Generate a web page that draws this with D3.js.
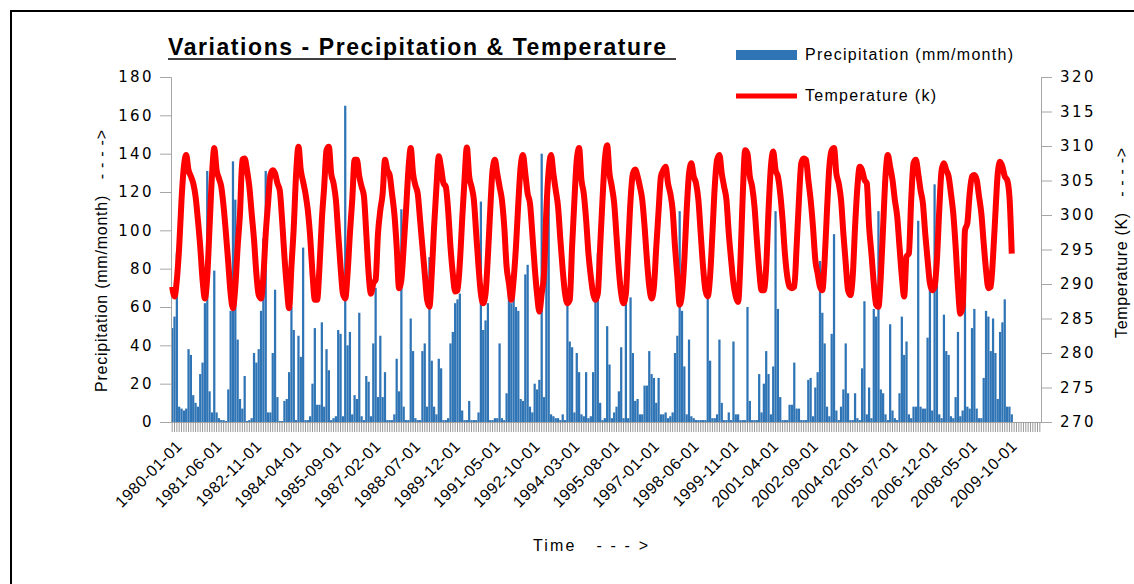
<!DOCTYPE html>
<html lang="en">
<head>
	<meta charset="UTF-8">
	<title>Variations - Precipitation &amp; Temperature</title>
	<style>
		body { margin: 0; background: #fff; }
		text { font-family: "Liberation Sans", Arial, sans-serif; white-space: pre; }
	</style>
</head>
<body>
	<svg id="chart" width="1134" height="584"></svg>
	<script src="https://cdn.jsdelivr.net/npm/d3@7"></script>
	<script>

	// monthly series, 1980-01 .. 2009-12 (axis runs on to 2010-12)
	var precipitation = [
		49, 55, 88, 8, 7, 6, 7, 38, 35, 14, 10, 8,
		25, 31, 62, 131, 16, 5, 79, 5, 2, 1, 1, 0.5,
		17, 58, 136, 116, 43, 12, 7, 24, 0.5, 1, 2, 36,
		31, 38, 58, 96, 131, 5, 5, 36, 69, 13, 0.5, 0.5,
		11, 12, 26, 60, 48, 1, 45, 34, 91, 1, 1, 3,
		20, 49, 9, 9, 52, 8, 38, 27, 1, 2, 3, 48,
		46, 3, 165, 40, 47, 4, 14, 12, 57, 3, 1, 24,
		21, 3, 41, 70, 13, 45, 13, 26, 1, 1, 1, 4,
		33, 16, 111, 8, 1, 1, 54, 37, 2, 1, 1, 37,
		41, 8, 86, 32, 8, 4, 33, 28, 1, 1, 2, 41,
		47, 62, 64, 67, 6, 1, 1, 11, 1, 1, 1, 5,
		115, 48, 53, 62, 1, 1, 2, 2, 41, 2, 1, 15,
		69, 62, 66, 60, 58, 12, 11, 77, 82, 8, 5, 20,
		17, 22, 140, 13, 127, 120, 4, 3, 2, 2, 1, 4,
		1, 62, 42, 39, 5, 36, 26, 4, 3, 26, 2, 3,
		26, 65, 88, 10, 1, 2, 50, 30, 2, 5, 8, 16,
		39, 2, 65, 2, 65, 36, 11, 12, 4, 4, 19, 19,
		37, 25, 23, 10, 23, 4, 4, 5, 2, 3, 5, 36,
		45, 110, 58, 29, 4, 43, 3, 2, 1, 1, 1, 1,
		1, 65, 32, 2, 2, 4, 43, 10, 1, 1, 5, 1,
		42, 4, 4, 1, 1, 1, 60, 11, 1, 1, 1, 25,
		5, 20, 37, 25, 4, 29, 110, 59, 13, 1, 1, 1,
		9, 9, 31, 7, 7, 1, 1, 1, 22, 23, 3, 18,
		26, 84, 57, 41, 8, 3, 46, 98, 6, 1, 8, 17,
		41, 15, 1, 1, 15, 2, 1, 28, 63, 4, 18, 2,
		59, 55, 110, 17, 15, 4, 1, 51, 6, 2, 1, 15,
		55, 35, 42, 4, 2, 8, 8, 105, 8, 7, 7, 44,
		70, 6, 124, 99, 4, 2, 56, 37, 35, 3, 2, 13,
		47, 3, 6, 102, 8, 7, 49, 59, 7, 2, 2, 23,
		58, 55, 37, 54, 36, 12, 47, 52, 64, 8, 8, 4
	];

	var temperature = [
		289.6, 288.2, 290.6, 295.4, 302.2, 307.0, 308.7, 306.5, 305.6, 304.6, 302.7, 299.3,
		295.4, 290.6, 287.9, 291.1, 298.3, 305.6, 309.7, 306.5, 305.3, 304.1, 301.2, 297.3,
		293.0, 288.6, 286.5, 289.6, 295.4, 300.2, 308.0, 308.2, 306.5, 304.1, 300.2, 296.4,
		291.5, 288.4, 287.9, 291.1, 297.3, 301.7, 305.8, 306.5, 306.0, 304.6, 303.6, 299.3,
		294.0, 289.6, 286.5, 292.5, 298.3, 306.0, 309.9, 306.5, 304.8, 303.1, 300.7, 296.9,
		291.5, 287.7, 287.7, 292.5, 299.3, 304.1, 309.4, 309.9, 306.0, 304.6, 302.2, 297.3,
		292.5, 288.6, 287.9, 291.5, 297.3, 302.2, 308.0, 308.0, 305.6, 304.1, 302.7, 297.3,
		291.5, 288.6, 290.1, 290.6, 297.3, 300.7, 303.1, 308.0, 306.5, 305.8, 303.1, 300.2,
		295.4, 289.4, 290.6, 295.4, 300.7, 306.5, 309.7, 306.0, 304.3, 303.1, 299.3, 295.4,
		291.5, 287.7, 286.7, 291.5, 298.3, 304.1, 308.5, 306.8, 304.6, 304.1, 300.7, 295.4,
		291.5, 288.9, 289.1, 293.0, 299.3, 305.1, 309.8, 305.6, 304.1, 302.2, 297.3, 292.5,
		288.6, 287.2, 288.6, 294.0, 300.7, 306.5, 308.0, 306.0, 304.1, 302.2, 298.3, 292.5,
		290.1, 287.7, 290.6, 295.4, 301.7, 307.0, 308.7, 306.0, 303.1, 301.7, 297.3, 292.5,
		288.6, 286.0, 288.6, 291.5, 300.7, 306.5, 308.7, 306.0, 303.6, 301.2, 296.4, 292.0,
		288.6, 287.2, 287.7, 295.4, 302.2, 308.0, 309.7, 305.1, 303.1, 299.3, 294.4, 291.1,
		288.6, 287.7, 288.6, 295.4, 302.2, 308.0, 310.1, 306.0, 304.1, 301.7, 296.9, 292.0,
		288.6, 287.2, 288.6, 295.4, 302.2, 306.0, 306.6, 305.6, 304.1, 302.2, 298.3, 293.5,
		289.6, 287.9, 289.6, 295.4, 300.7, 305.6, 306.5, 307.0, 304.6, 303.1, 300.7, 295.4,
		291.1, 287.0, 288.6, 293.5, 300.7, 306.0, 307.5, 305.6, 304.6, 302.2, 297.3, 292.5,
		289.1, 288.2, 291.1, 297.3, 304.1, 308.0, 308.7, 306.0, 304.1, 302.2, 297.3, 293.5,
		290.1, 288.2, 287.4, 293.5, 303.1, 309.4, 308.9, 305.6, 304.1, 301.2, 296.4, 292.0,
		289.1, 289.1, 292.5, 300.7, 307.0, 309.2, 306.5, 305.6, 303.1, 299.3, 294.4, 291.1,
		289.6, 289.4, 289.6, 295.4, 302.2, 307.5, 308.2, 308.0, 305.1, 302.2, 298.3, 293.5,
		291.5, 289.6, 289.1, 293.5, 300.7, 307.0, 309.4, 309.7, 306.0, 304.6, 302.2, 297.3,
		293.0, 289.1, 288.4, 291.1, 298.3, 304.1, 307.0, 306.5, 305.1, 304.6, 298.3, 294.4,
		290.1, 287.0, 286.7, 291.1, 298.3, 305.6, 308.7, 307.0, 305.1, 302.2, 299.8, 295.4,
		291.1, 288.2, 294.0, 294.4, 302.2, 307.5, 308.0, 306.0, 303.6, 301.7, 297.3, 293.5,
		290.1, 289.1, 289.6, 293.5, 300.7, 306.5, 307.5, 306.5, 305.6, 303.1, 300.2, 295.4,
		289.6, 285.7, 286.7, 297.8, 298.8, 303.1, 305.6, 305.8, 305.1, 302.7, 300.2, 295.9,
		292.0, 289.4, 289.6, 294.0, 300.2, 306.0, 307.7, 307.0, 305.6, 305.1, 302.7, 294.4
	];

	var tickLabels = ["1980-01-01", "1981-06-01", "1982-11-01", "1984-04-01", "1985-09-01",
		"1987-02-01", "1988-07-01", "1989-12-01", "1991-05-01", "1992-10-01", "1994-03-01",
		"1995-08-01", "1997-01-01", "1998-06-01", "1999-11-01", "2001-04-01", "2002-09-01",
		"2004-02-01", "2005-07-01", "2006-12-01", "2008-05-01", "2009-10-01"];

	var precipTicks = [0, 20, 40, 60, 80, 100, 120, 140, 160, 180];
	var tempTicks = [270, 275, 280, 285, 290, 295, 300, 305, 310, 315, 320];

	// category axis: every month from 1980-01 to 2010-12
	var fmt = d3.timeFormat("%Y-%m-%d");
	var categories = d3.timeMonth.range(new Date(1980, 0, 1), new Date(2011, 0, 1)).map(fmt);

	var data = precipitation.map(function (p, i) {
		return {date: categories[i], precip: p, temp: temperature[i]};
	});

	var svg = d3.select("#chart"),
		plotLeft = 171, plotRight = 1041, plotTop = 77, plotBottom = 422;

	var x = d3.scaleBand().domain(categories).range([plotLeft, plotRight]).paddingInner(0.04).paddingOuter(0.02),
		yP = d3.scaleLinear().domain([0, 180]).range([plotBottom, plotTop]),
		yT = d3.scaleLinear().domain([270, 320]).range([plotBottom, plotTop]);

	// frame
	svg.append("path")
		.attr("d", "M11,584V11H1134")
		.attr("fill", "none")
		.attr("stroke", "#000")
		.attr("stroke-width", 2);

	// bars
	svg.append("g").selectAll("rect")
		.data(data)
		.join("rect")
		.attr("x", function (d) { return x(d.date); })
		.attr("width", x.bandwidth())
		.attr("y", function (d) { return yP(d.precip); })
		.attr("height", function (d) { return plotBottom - yP(d.precip); })
		.attr("fill", "#2f74b5");

	// axes
	var axisGrey = "#a6a6a6";

	var axL = svg.append("g")
		.attr("transform", "translate(" + plotLeft + ",0)")
		.call(d3.axisLeft(yP).tickValues(precipTicks).tickSize(11).tickPadding(6));
	var axR = svg.append("g")
		.attr("transform", "translate(" + plotRight + ",0)")
		.call(d3.axisRight(yT).tickValues(tempTicks).tickSize(11).tickPadding(8));
	var axB = svg.append("g")
		.attr("transform", "translate(0," + plotBottom + ")")
		.call(d3.axisBottom(x).tickSize(10).tickFormat("").tickSizeOuter(0));

	[axL, axR, axB].forEach(function (g) {
		g.selectAll("path, line").attr("stroke", axisGrey);
		g.selectAll("text")
			.attr("fill", "#000")
			.style("font-family", "'DejaVu Sans', Verdana, sans-serif")
			.style("font-size", "15px")
			.style("letter-spacing", "2.4px");
	});
	axB.selectAll("line").attr("stroke", "#9a9a9a");

	// rotated date labels
	svg.append("g").selectAll("text")
		.data(tickLabels)
		.join("text")
		.attr("transform", function (d) {
			var cx = x(d) + x.bandwidth() / 2;
			return "translate(" + (cx + 3) + ",439) rotate(-45)";
		})
		.attr("text-anchor", "end")
		.attr("dy", "0.71em")
		.style("font-size", "16px")
		.style("letter-spacing", "0.5px")
		.text(function (d) { return d; });

	// temperature line
	var line = d3.line()
		.x(function (d) { return x(d.date) + x.bandwidth() / 2; })
		.y(function (d) { return yT(d.temp); })
		.curve(d3.curveMonotoneX);

	svg.append("path")
		.datum(data)
		.attr("d", line)
		.attr("fill", "none")
		.attr("stroke", "#ff0000")
		.attr("stroke-width", 6)
		.attr("stroke-linejoin", "round");

	// title
	svg.append("text")
		.attr("x", 168).attr("y", 55)
		.attr("textLength", 498)
		.style("font-size", "23px")
		.style("font-weight", "bold")
		.text("Variations - Precipitation & Temperature");
	svg.append("line")
		.attr("x1", 168).attr("x2", 676)
		.attr("y1", 59).attr("y2", 59)
		.attr("stroke", "#000").attr("stroke-width", 1.5);

	// legend
	svg.append("rect")
		.attr("x", 736).attr("y", 50).attr("width", 61).attr("height", 10)
		.attr("fill", "#2f74b5");
	svg.append("text")
		.attr("x", 805).attr("y", 60)
		.attr("textLength", 208)
		.style("font-size", "16px")
		.text("Precipitation (mm/month)");
	svg.append("line")
		.attr("x1", 736).attr("x2", 797).attr("y1", 96).attr("y2", 96)
		.attr("stroke", "#ff0000").attr("stroke-width", 5);
	svg.append("text")
		.attr("x", 805).attr("y", 101)
		.attr("textLength", 131)
		.style("font-size", "16px")
		.text("Temperature (k)");

	// axis titles
	svg.append("text")
		.attr("transform", "translate(107,392) rotate(-90)")
		.attr("textLength", 262)
		.style("font-size", "16px")
		.text("Precipitation (mm/month)   - - - ->");
	svg.append("text")
		.attr("transform", "translate(1127,338) rotate(-90)")
		.attr("textLength", 190)
		.style("font-size", "16px")
		.text("Temperature (K)   - - - ->");
	svg.append("text")
		.attr("x", 533).attr("y", 551)
		.attr("textLength", 115)
		.style("font-size", "16px")
		.text("Time   - - - >");

	</script>
</body>
</html>
